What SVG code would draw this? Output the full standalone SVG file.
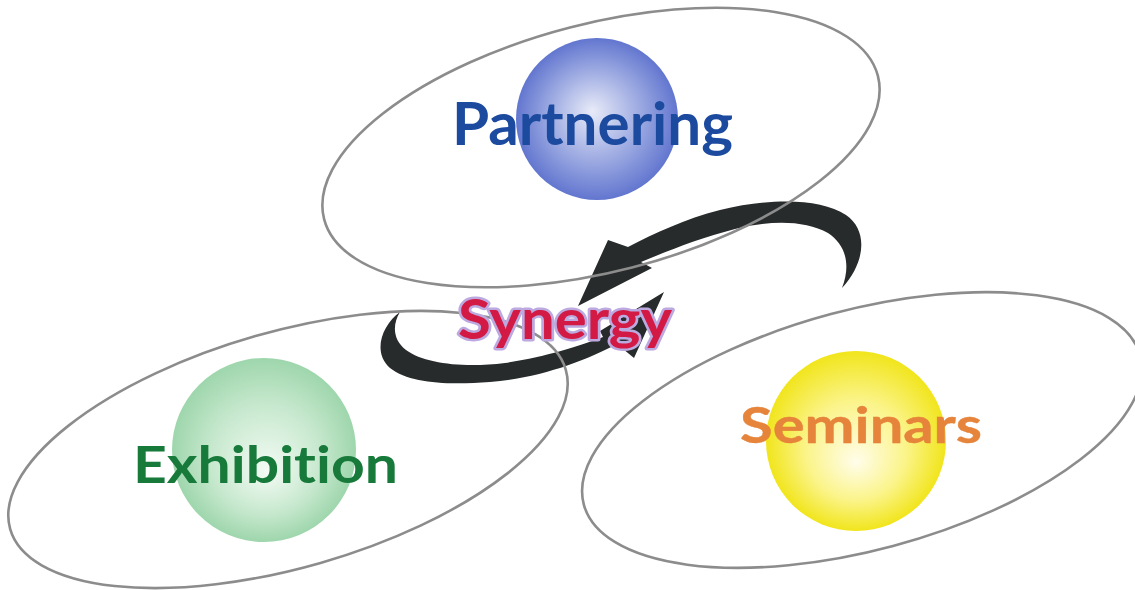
<svg xmlns="http://www.w3.org/2000/svg" width="1135" height="590" viewBox="0 0 1135 590">
<style>
.ring{fill:none;stroke:#8c8c8c;stroke-width:2.6}
.arrow{fill:#272b2b}
.lbl{font-family:Lato,"Open Sans","Liberation Sans",sans-serif;font-weight:700;font-variant-ligatures:none;font-feature-settings:"liga" 0,"clig" 0}
</style>
<defs>
<radialGradient id="gBlue" cx="0.5" cy="0.5" r="0.5" fx="0.47" fy="0.45">
<stop offset="0" stop-color="#e8ebf8"/><stop offset="0.55" stop-color="#9eabe2"/><stop offset="1" stop-color="#6276cf"/>
</radialGradient>
<radialGradient id="gGreen" cx="0.5" cy="0.5" r="0.5" fx="0.52" fy="0.62">
<stop offset="0" stop-color="#f4fbf5"/><stop offset="0.6" stop-color="#c6e8cd"/><stop offset="1" stop-color="#9ed6ac"/>
</radialGradient>
<radialGradient id="gYellow" cx="0.5" cy="0.5" r="0.5" fx="0.5" fy="0.62">
<stop offset="0" stop-color="#fffdea"/><stop offset="0.55" stop-color="#fbf48a"/><stop offset="1" stop-color="#f1e51c"/>
</radialGradient>
</defs>
<rect width="1135" height="590" fill="#ffffff"/>
<g id="connectors">
<path class="arrow" d="M842,288 C866,262 868,230 846,215 C820,198 770,198 720,210 C685,219 655,233 628,247 L608,240 L578,306 L652,268 L641,262 C670,250 700,238 735,229 C770,220 805,220 828,233 C846,245 851,265 842,288 Z"/>
<path class="arrow" d="M400,312 C382,325 372,352 390,368 C410,384 450,385 490,382 C540,378 585,361 617,344 L634,358 L664,292 L600,331 L603,337 C580,346 545,357 505,363 C465,368 425,364 406,350 C393,340 392,325 400,312 Z"/>
</g>
<g id="partnering">
<circle cx="597" cy="119" r="81" fill="url(#gBlue)"/>
<ellipse class="ring" cx="601" cy="147.5" rx="286" ry="124" transform="rotate(-14.5 601 147.5)"/>
<text class="lbl" x="452" y="145" font-size="60" fill="#1b4a9e" textLength="281" lengthAdjust="spacingAndGlyphs">Partnering</text>
</g>
<g id="exhibition">
<circle cx="264" cy="450" r="92" fill="url(#gGreen)"/>
<ellipse class="ring" cx="288" cy="449.5" rx="289" ry="118" transform="rotate(-16 288 449.5)"/>
<text class="lbl" x="133" y="483" font-size="51" fill="#177a3a" textLength="265" lengthAdjust="spacingAndGlyphs">Exhibition</text>
</g>
<g id="seminars">
<circle cx="856" cy="441" r="90" fill="url(#gYellow)"/>
<ellipse class="ring" cx="862" cy="430" rx="288" ry="120" transform="rotate(-15 862 430)"/>
<text class="lbl" x="740" y="443" font-size="49" font-weight="400" fill="#e5843a" stroke="#e5843a" stroke-width="0.4" textLength="242" lengthAdjust="spacingAndGlyphs">Seminars</text>
</g>
<g id="synergy">
<text class="lbl" x="458" y="339" font-size="55" fill="#d21a45" stroke="#bca9e0" stroke-width="5" stroke-linejoin="round" paint-order="stroke fill" textLength="214" lengthAdjust="spacingAndGlyphs">Synergy</text>
</g>
</svg>
